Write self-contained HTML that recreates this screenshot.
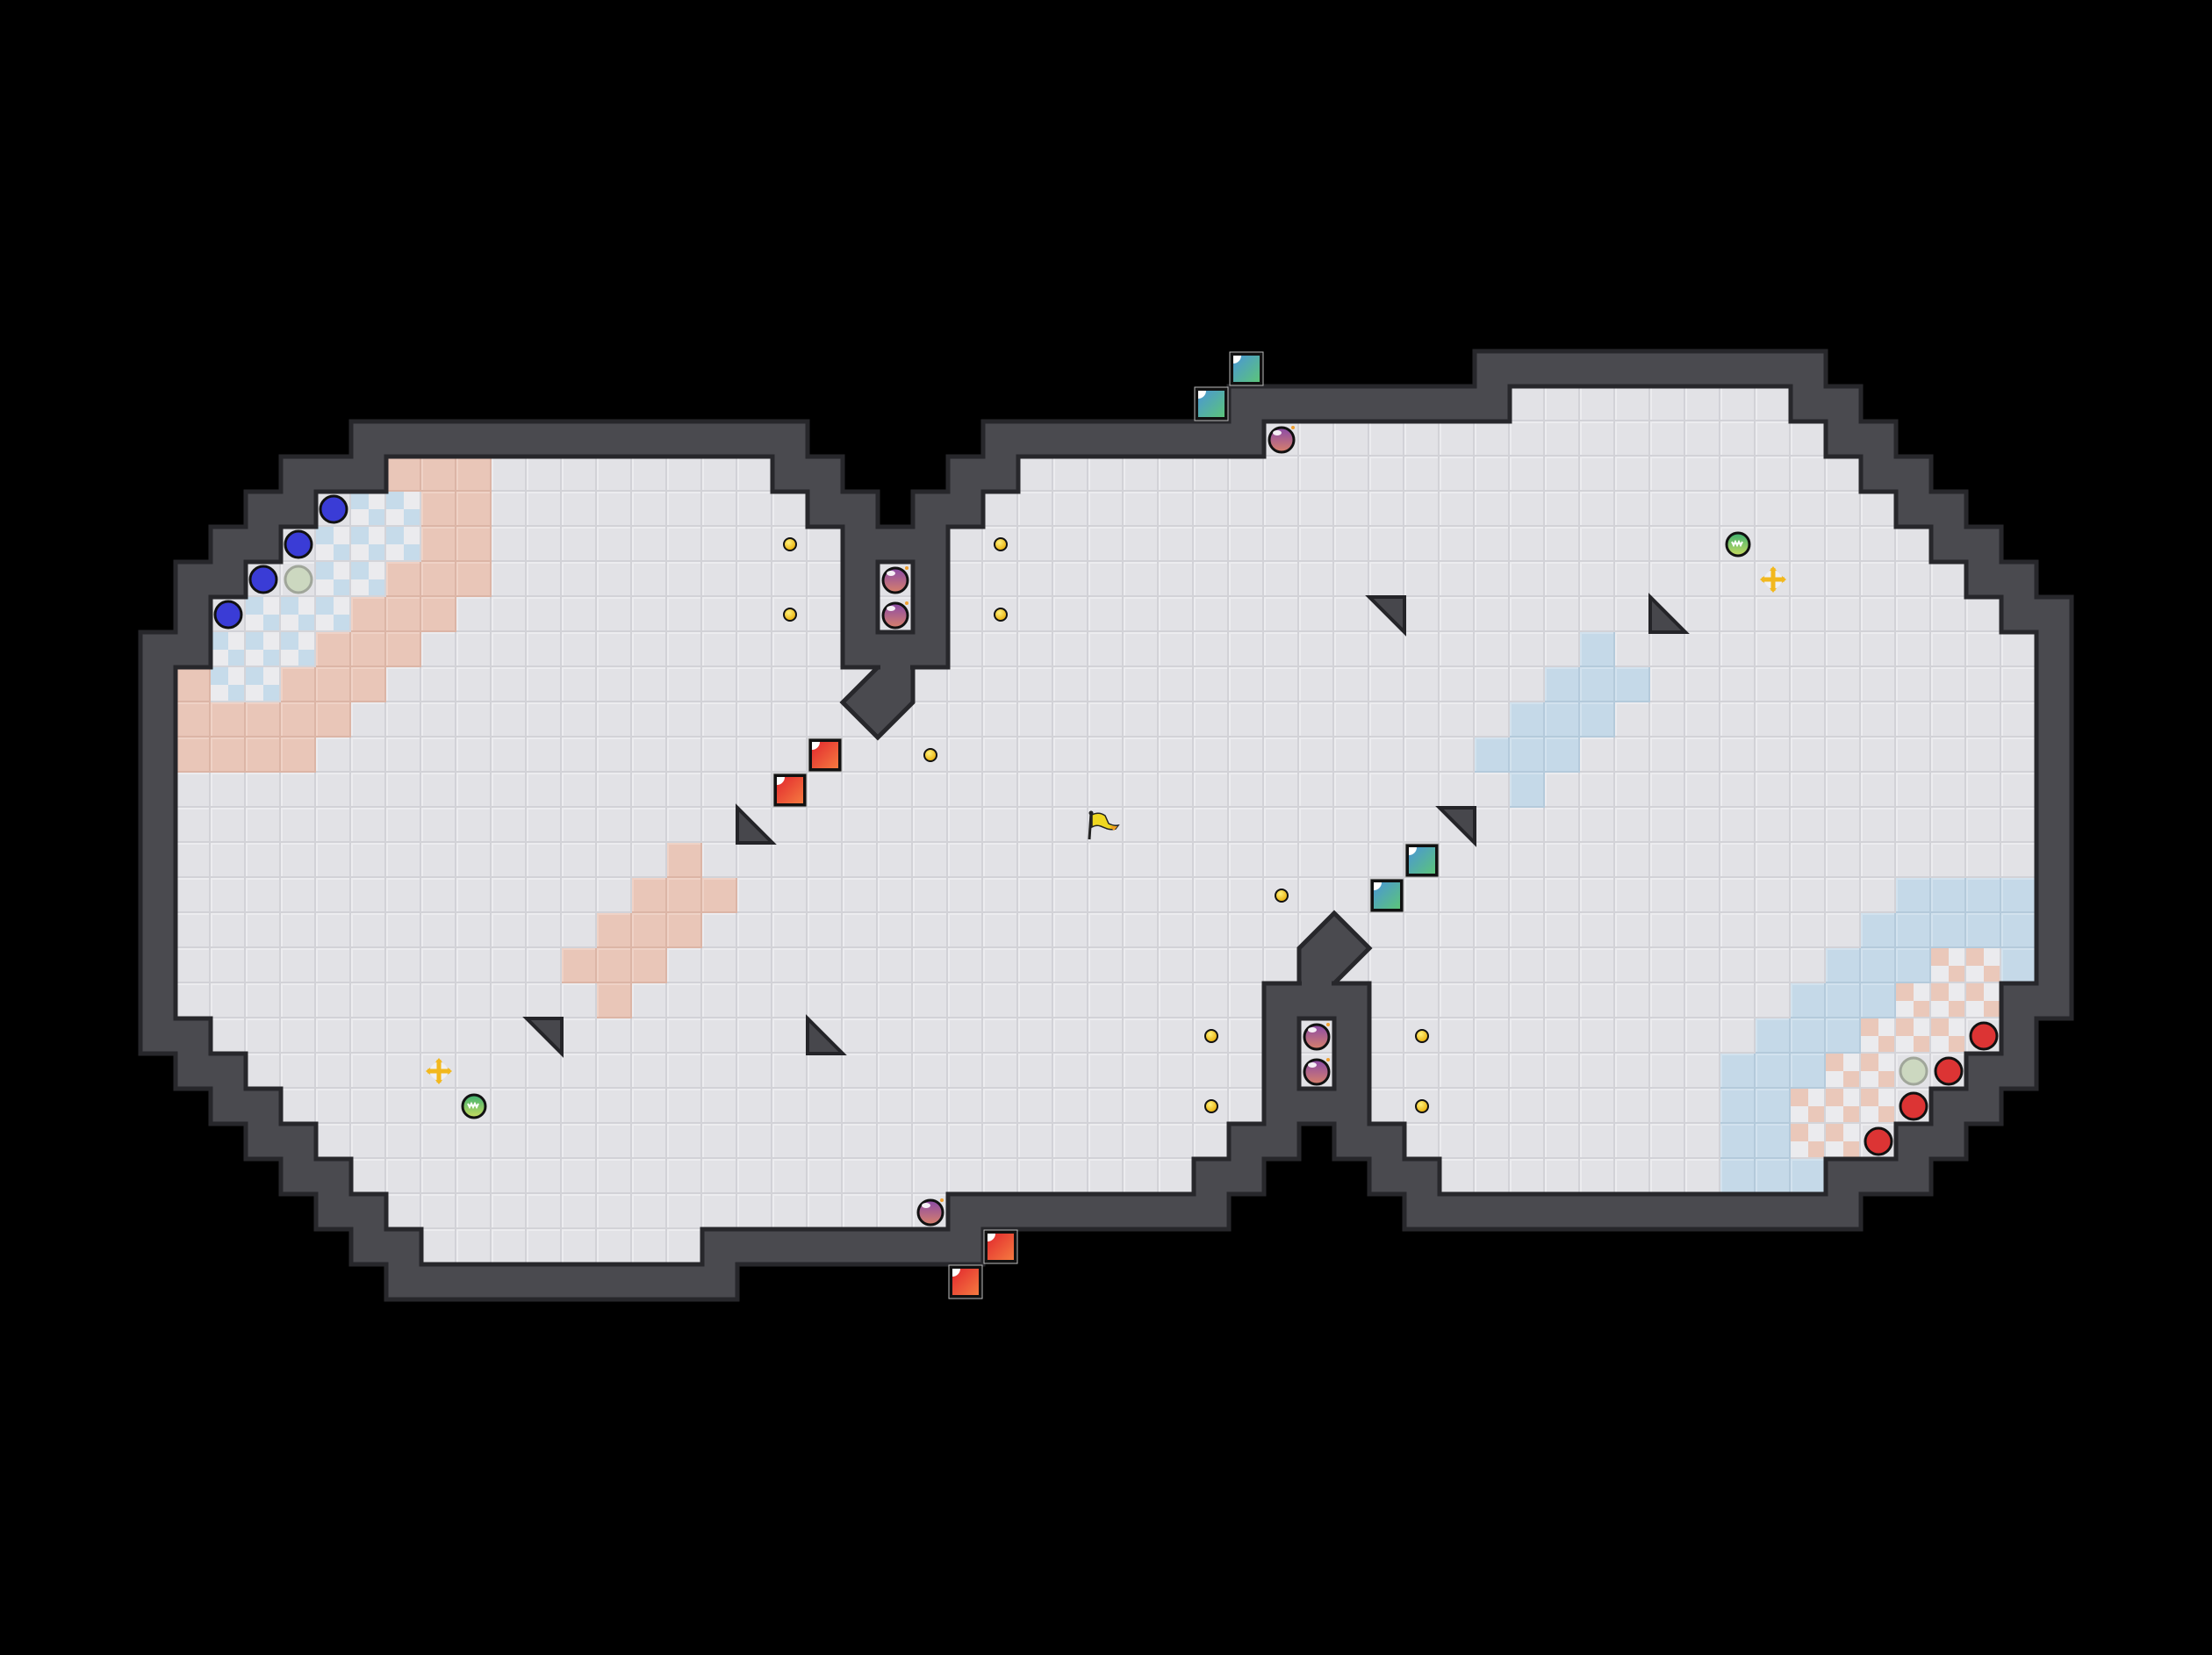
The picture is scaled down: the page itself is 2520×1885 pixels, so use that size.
<!DOCTYPE html>
<html><head><meta charset="utf-8"><style>
html,body{margin:0;padding:0;background:#000;}
#m{position:absolute;left:0;top:0;width:2520px;height:1880px;}
</style></head><body>
<div id="m"></div>
<script>
(function(){
var T=40;
var top={11:[[43,50]],12:[[36,51]],13:[[11,21],[29,52]],14:[[9,22],[28,53]],15:[[8,23],[27,54]],
16:[[7,23],[25,25],[27,55]],17:[[6,23],[25,25],[27,56]],18:[[6,23],[27,57]],19:[[5,57]],20:[[5,57]],21:[[5,57]],22:[[5,57]],23:[[5,57]]};
var F={};
function setF(c,r){F[c+','+r]=1;}
for(var r in top){r=+r;top[r].forEach(function(s){for(var c=s[0];c<=s[1];c++){setF(c,r);setF(62-c,46-r);}});}
function isF(c,r){return !!F[c+','+r];}
var W={};
for(var r=0;r<47;r++)for(var c=0;c<63;c++){if(isF(c,r))continue;
 var w=false;for(var dr=-1;dr<=1;dr++)for(var dc=-1;dc<=1;dc++)if(isF(c+dc,r+dr))w=true;
 if(w)W[c+','+r]=1;}
function isW(c,r){return !!W[c+','+r];}
// zones
var zone={};
function Z(c,r,t){zone[c+','+r]=t;}
var redS={13:[11,13],14:[12,13],15:[12,13],16:[11,13],17:[10,12],18:[9,11],20:[5,9],21:[5,8],24:[19,19],25:[18,20],26:[17,19],27:[16,18],28:[17,17]};
var blueC={14:[10,11],15:[9,11],16:[9,10],17:[7,9],18:[6,8],19:[6,7]};
for(var r in redS){r=+r;for(var c=redS[r][0];c<=redS[r][1];c++){Z(c,r,'rs');Z(62-c,46-r,'bs');}}
[5,8,9,10].forEach(function(c){Z(c,19,'rs');Z(62-c,27,'bs');});
for(var r in blueC){r=+r;for(var c=blueC[r][0];c<=blueC[r][1];c++){Z(c,r,'bc');Z(62-c,46-r,'rc');}}
var s='<svg xmlns="http://www.w3.org/2000/svg" width="2520" height="1880" viewBox="0 0 2520 1880">';
s+='<defs>';
function tilePat(id,base,hi,lo){return '<pattern id="'+id+'" width="40" height="40" patternUnits="userSpaceOnUse"><rect width="40" height="40" fill="'+base+'"/><rect width="40" height="2" fill="'+hi+'"/><rect width="2" height="40" fill="'+hi+'"/><rect y="38" width="40" height="2" fill="'+lo+'"/><rect x="38" width="2" height="40" fill="'+lo+'"/></pattern>';}
s+=tilePat('pf','#e2e2e6','#ececef','#d2d2d7');
s+=tilePat('pr','#e9c6b8','#efd2c6','#dcb5a6');
s+=tilePat('pb','#c5d9e8','#d2e2ee','#b4cadb');
s+='<pattern id="pbc" width="40" height="40" patternUnits="userSpaceOnUse"><rect width="40" height="40" fill="#ebebee"/><rect width="20" height="20" fill="#c6dbea"/><rect x="20" y="20" width="20" height="20" fill="#c6dbea"/><rect y="38" width="40" height="2" fill="#d4d4d9"/><rect x="38" width="2" height="40" fill="#d4d4d9"/></pattern>';
s+='<pattern id="prc" width="40" height="40" patternUnits="userSpaceOnUse"><rect width="40" height="40" fill="#ebebee"/><rect width="20" height="20" fill="#eac8ba"/><rect x="20" y="20" width="20" height="20" fill="#eac8ba"/><rect y="38" width="40" height="2" fill="#d4d4d9"/><rect x="38" width="2" height="40" fill="#d4d4d9"/></pattern>';
s+='<linearGradient id="gr" x1="0" y1="0" x2="1" y2="1"><stop offset="0" stop-color="#e2282e"/><stop offset="1" stop-color="#f57a40"/></linearGradient>';
s+='<linearGradient id="gt" x1="0" y1="0" x2="1" y2="1"><stop offset="0" stop-color="#4a96d6"/><stop offset="1" stop-color="#5cc47a"/></linearGradient>';
s+='<linearGradient id="gb" x1="0" y1="0" x2="0" y2="1"><stop offset="0" stop-color="#8a4aa8"/><stop offset="1" stop-color="#d8806a"/></linearGradient>';
s+='<linearGradient id="gg" x1="0" y1="0" x2="0" y2="1"><stop offset="0" stop-color="#3cb070"/><stop offset="1" stop-color="#c8dc60"/></linearGradient>';
s+='<radialGradient id="gy" cx="0.4" cy="0.35" r="0.7"><stop offset="0" stop-color="#fff27a"/><stop offset="1" stop-color="#e8a800"/></radialGradient>';
s+='</defs>';
var pm={rs:'pr',bs:'pb',bc:'pbc',rc:'prc'};
for(var k in F){var p=k.split(',');var c=+p[0],r=+p[1];var z=zone[k];
 s+='<rect x="'+c*T+'" y="'+r*T+'" width="40" height="40" fill="url(#'+(z?pm[z]:'pf')+')"/>';}
for(var k in W){var p=k.split(',');s+='<rect x="'+(+p[0])*T+'" y="'+(+p[1])*T+'" width="40" height="40" fill="#4a4a4f"/>';}
// outlines
var L='';
for(var k in W){var p=k.split(',');var c=+p[0],r=+p[1];var x=c*T,y=r*T;
 if(!isW(c,r-1))L+='M'+x+' '+y+'h40';
 if(!isW(c,r+1))L+='M'+x+' '+(y+40)+'h40';
 if(!isW(c-1,r))L+='M'+x+' '+y+'v40';
 if(!isW(c+1,r))L+='M'+(x+40)+' '+y+'v40';}
s+='<path d="'+L+'" stroke="#27272b" stroke-width="5" fill="none" stroke-linecap="square"/>';
// diagonal pillar pieces
function diag(pts){var st=pts.map(function(q){return q[0]+','+q[1];}).join(' ');
 s+='<polygon points="'+st+'" fill="#4a4a4f" stroke="#27272b" stroke-width="5" stroke-linejoin="miter"/>';}
diag([[1000,760],[1040,760],[1040,800],[1000,840],[960,800]]);
s+='<rect x="1003" y="750" width="34" height="14" fill="#4a4a4f"/>';
diag([[1520,1120],[1480,1120],[1480,1080],[1520,1040],[1560,1080]]);
s+='<rect x="1483" y="1116" width="34" height="14" fill="#4a4a4f"/>';
// tick marks on some walls
// triangles
function tri(c,r,t){var x=c*T,y=r*T,pts;
 if(t=='bl')pts=[[x,y],[x,y+40],[x+40,y+40]];else pts=[[x,y],[x+40,y],[x+40,y+40]];
 s+='<polygon points="'+pts.map(function(q){return q.join(',');}).join(' ')+'" fill="#47474c" stroke="#242428" stroke-width="4"/>';}
[[21,23,'bl'],[15,29,'tr'],[23,29,'bl']].forEach(function(a){tri(a[0],a[1],a[2]);tri(62-a[0],46-a[1],a[2]=='bl'?'tr':'bl');});
// items
function cx(c){return c*T+20;}
function dot(c,r){s+='<circle cx="'+cx(c)+'" cy="'+cx(r)+'" r="7" fill="url(#gy)" stroke="#111" stroke-width="2"/>';}
function bomb(c,r){var x=cx(c),y=cx(r);s+='<circle cx="'+x+'" cy="'+(y+1)+'" r="14" fill="url(#gb)" stroke="#111" stroke-width="3"/><ellipse cx="'+(x-5)+'" cy="'+(y-7)+'" rx="5" ry="3" fill="#fff" opacity="0.9"/><circle cx="'+(x+13)+'" cy="'+(y-13)+'" r="2" fill="#f0a030"/>';}
function box(c,r,g){var x=c*T,y=r*T;s+='<rect x="'+(x+1)+'" y="'+(y+1)+'" width="38" height="38" fill="#111" stroke="#bbb" stroke-width="1"/><rect x="'+(x+5)+'" y="'+(y+5)+'" width="30" height="30" fill="url(#'+g+')"/><path d="M'+(x+5)+' '+(y+5)+'h9a9 9 0 0 1 -9 9z" fill="#fff"/>';}
function ball(c,r,f,st){s+='<circle cx="'+cx(c)+'" cy="'+cx(r)+'" r="15" fill="'+f+'" stroke="'+st+'" stroke-width="3"/>';}
function green(c,r){var x=cx(c),y=cx(r);s+='<circle cx="'+x+'" cy="'+y+'" r="13" fill="url(#gg)" stroke="#111" stroke-width="3"/><path d="M'+(x-7)+' '+(y-3)+'l2 4l2-4l2 4l2-4l2 4l2-4" stroke="#fff" stroke-width="2" fill="none"/>';}
function cross(c,r){var x=cx(c),y=cx(r);s+='<circle cx="'+x+'" cy="'+y+'" r="10" fill="#f0f0f2"/><path d="M'+x+' '+(y-13)+'v26M'+(x-13)+' '+y+'h26" stroke="#f2b81e" stroke-width="5"/><path d="M'+x+' '+(y-15)+'l-4 5h8zM'+x+' '+(y+15)+'l-4 -5h8zM'+(x-15)+' '+y+'l5 -4v8zM'+(x+15)+' '+y+'l-5 -4v8z" fill="#f2b81e"/>';}
[[22,15],[22,17],[28,15],[28,17],[26,21]].forEach(function(a){dot(a[0],a[1]);dot(62-a[0],46-a[1]);});
[[25,16],[25,17],[36,12]].forEach(function(a){bomb(a[0],a[1]);bomb(62-a[0],46-a[1]);});
[[23,21],[22,22],[28,35],[27,36]].forEach(function(a){box(a[0],a[1],'gr');box(62-a[0],46-a[1],'gt');});
green(13,31);green(49,15);cross(12,30);cross(50,16);
[[9,14],[8,15],[7,16],[6,17]].forEach(function(a){ball(a[0],a[1],'#3a3cd6','#111');ball(62-a[0],46-a[1],'#dc3434','#111');});
ball(8,16,'#ccd8c0','#a0a69a');ball(54,30,'#ccd8c0','#a0a69a');
// flag
s+='<path d="M1243 926L1241 956" stroke="#222" stroke-width="3"/><circle cx="1243" cy="926" r="2.5" fill="#222"/><path d="M1244 928q8-4 15 1l4 9q6 3 11 2l-3 4q-6 2-12-1l-5-2q-5-2-10 1z" fill="#f0d820" stroke="#222" stroke-width="1.5"/><path d="M1264 941l9 0-4 5z" fill="#f0a020"/>';
s+='</svg>';
document.getElementById('m').innerHTML=s;
})();
</script>
</body></html>
